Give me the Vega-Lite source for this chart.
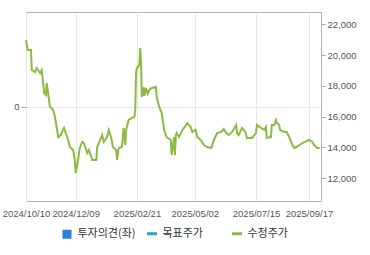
{
  "$schema": "https://vega.github.io/schema/vega-lite/v6.json",
  "width": 295,
  "height": 189,
  "autosize": {"type": "none"},
  "padding": {"left": 26, "top": 12, "right": 49, "bottom": 54},
  "background": "#ffffff",
  "config": {
    "view": {"stroke": "#b4b4b4", "strokeWidth": 1},
    "font": "Liberation Sans",
    "axis": {"labelColor": "#555555", "labelFontSize": 9.5, "labelFont": "Liberation Sans", "domain": false, "tickColor": "#aaaaaa", "gridColor": "#e8e8e8", "title": null}
  },
  "data": {
    "values": [
      {"date": "2024-10-10", "price": 20980, "series": "수정주가"},
      {"date": "2024-10-12", "price": 20330, "series": "수정주가"},
      {"date": "2024-10-16", "price": 20330, "series": "수정주가"},
      {"date": "2024-10-17", "price": 19030, "series": "수정주가"},
      {"date": "2024-10-21", "price": 18900, "series": "수정주가"},
      {"date": "2024-10-23", "price": 19160, "series": "수정주가"},
      {"date": "2024-10-27", "price": 18840, "series": "수정주가"},
      {"date": "2024-10-29", "price": 19030, "series": "수정주가"},
      {"date": "2024-11-01", "price": 17540, "series": "수정주가"},
      {"date": "2024-11-03", "price": 17410, "series": "수정주가"},
      {"date": "2024-11-04", "price": 18190, "series": "수정주가"},
      {"date": "2024-11-06", "price": 17410, "series": "수정주가"},
      {"date": "2024-11-08", "price": 16630, "series": "수정주가"},
      {"date": "2024-11-12", "price": 16440, "series": "수정주가"},
      {"date": "2024-11-14", "price": 15980, "series": "수정주가"},
      {"date": "2024-11-16", "price": 15330, "series": "수정주가"},
      {"date": "2024-11-18", "price": 14680, "series": "수정주가"},
      {"date": "2024-11-21", "price": 14810, "series": "수정주가"},
      {"date": "2024-11-25", "price": 15270, "series": "수정주가"},
      {"date": "2024-11-27", "price": 14940, "series": "수정주가"},
      {"date": "2024-11-30", "price": 14490, "series": "수정주가"},
      {"date": "2024-12-02", "price": 14030, "series": "수정주가"},
      {"date": "2024-12-06", "price": 13840, "series": "수정주가"},
      {"date": "2024-12-08", "price": 13190, "series": "수정주가"},
      {"date": "2024-12-09", "price": 12340, "series": "수정주가"},
      {"date": "2024-12-11", "price": 12860, "series": "수정주가"},
      {"date": "2024-12-14", "price": 13970, "series": "수정주가"},
      {"date": "2024-12-17", "price": 14360, "series": "수정주가"},
      {"date": "2024-12-19", "price": 14290, "series": "수정주가"},
      {"date": "2024-12-23", "price": 13640, "series": "수정주가"},
      {"date": "2024-12-25", "price": 13840, "series": "수정주가"},
      {"date": "2024-12-28", "price": 13380, "series": "수정주가"},
      {"date": "2024-12-29", "price": 13190, "series": "수정주가"},
      {"date": "2025-01-03", "price": 13190, "series": "수정주가"},
      {"date": "2025-01-04", "price": 14030, "series": "수정주가"},
      {"date": "2025-01-09", "price": 14680, "series": "수정주가"},
      {"date": "2025-01-10", "price": 14810, "series": "수정주가"},
      {"date": "2025-01-12", "price": 14360, "series": "수정주가"},
      {"date": "2025-01-16", "price": 14680, "series": "수정주가"},
      {"date": "2025-01-18", "price": 15140, "series": "수정주가"},
      {"date": "2025-01-21", "price": 14620, "series": "수정주가"},
      {"date": "2025-01-23", "price": 14030, "series": "수정주가"},
      {"date": "2025-01-27", "price": 13840, "series": "수정주가"},
      {"date": "2025-01-28", "price": 13190, "series": "수정주가"},
      {"date": "2025-01-30", "price": 13970, "series": "수정주가"},
      {"date": "2025-02-03", "price": 14030, "series": "수정주가"},
      {"date": "2025-02-05", "price": 15270, "series": "수정주가"},
      {"date": "2025-02-07", "price": 14160, "series": "수정주가"},
      {"date": "2025-02-08", "price": 15140, "series": "수정주가"},
      {"date": "2025-02-11", "price": 15790, "series": "수정주가"},
      {"date": "2025-02-15", "price": 15920, "series": "수정주가"},
      {"date": "2025-02-18", "price": 15980, "series": "수정주가"},
      {"date": "2025-02-19", "price": 16440, "series": "수정주가"},
      {"date": "2025-02-20", "price": 18840, "series": "수정주가"},
      {"date": "2025-02-21", "price": 19160, "series": "수정주가"},
      {"date": "2025-02-24", "price": 19360, "series": "수정주가"},
      {"date": "2025-02-25", "price": 20460, "series": "수정주가"},
      {"date": "2025-02-26", "price": 19490, "series": "수정주가"},
      {"date": "2025-02-27", "price": 17280, "series": "수정주가"},
      {"date": "2025-03-01", "price": 17930, "series": "수정주가"},
      {"date": "2025-03-02", "price": 17350, "series": "수정주가"},
      {"date": "2025-03-04", "price": 17870, "series": "수정주가"},
      {"date": "2025-03-06", "price": 17480, "series": "수정주가"},
      {"date": "2025-03-08", "price": 17740, "series": "수정주가"},
      {"date": "2025-03-11", "price": 17870, "series": "수정주가"},
      {"date": "2025-03-16", "price": 17930, "series": "수정주가"},
      {"date": "2025-03-17", "price": 17280, "series": "수정주가"},
      {"date": "2025-03-20", "price": 16630, "series": "수정주가"},
      {"date": "2025-03-23", "price": 16240, "series": "수정주가"},
      {"date": "2025-03-26", "price": 15140, "series": "수정주가"},
      {"date": "2025-03-29", "price": 14680, "series": "수정주가"},
      {"date": "2025-04-03", "price": 14490, "series": "수정주가"},
      {"date": "2025-04-04", "price": 13510, "series": "수정주가"},
      {"date": "2025-04-07", "price": 14680, "series": "수정주가"},
      {"date": "2025-04-08", "price": 13510, "series": "수정주가"},
      {"date": "2025-04-09", "price": 14810, "series": "수정주가"},
      {"date": "2025-04-10", "price": 14940, "series": "수정주가"},
      {"date": "2025-04-13", "price": 14680, "series": "수정주가"},
      {"date": "2025-04-17", "price": 15140, "series": "수정주가"},
      {"date": "2025-04-19", "price": 15270, "series": "수정주가"},
      {"date": "2025-04-23", "price": 15590, "series": "수정주가"},
      {"date": "2025-04-25", "price": 15460, "series": "수정주가"},
      {"date": "2025-04-27", "price": 15330, "series": "수정주가"},
      {"date": "2025-04-29", "price": 15010, "series": "수정주가"},
      {"date": "2025-05-03", "price": 15140, "series": "수정주가"},
      {"date": "2025-05-05", "price": 14680, "series": "수정주가"},
      {"date": "2025-05-09", "price": 14490, "series": "수정주가"},
      {"date": "2025-05-13", "price": 14160, "series": "수정주가"},
      {"date": "2025-05-17", "price": 14030, "series": "수정주가"},
      {"date": "2025-05-22", "price": 13970, "series": "수정주가"},
      {"date": "2025-05-25", "price": 14490, "series": "수정주가"},
      {"date": "2025-05-29", "price": 14940, "series": "수정주가"},
      {"date": "2025-06-03", "price": 15010, "series": "수정주가"},
      {"date": "2025-06-06", "price": 15200, "series": "수정주가"},
      {"date": "2025-06-09", "price": 14940, "series": "수정주가"},
      {"date": "2025-06-12", "price": 14810, "series": "수정주가"},
      {"date": "2025-06-16", "price": 15010, "series": "수정주가"},
      {"date": "2025-06-21", "price": 15460, "series": "수정주가"},
      {"date": "2025-06-22", "price": 14940, "series": "수정주가"},
      {"date": "2025-06-24", "price": 14810, "series": "수정주가"},
      {"date": "2025-06-28", "price": 15270, "series": "수정주가"},
      {"date": "2025-07-02", "price": 15010, "series": "수정주가"},
      {"date": "2025-07-04", "price": 14620, "series": "수정주가"},
      {"date": "2025-07-10", "price": 14620, "series": "수정주가"},
      {"date": "2025-07-15", "price": 14940, "series": "수정주가"},
      {"date": "2025-07-16", "price": 15460, "series": "수정주가"},
      {"date": "2025-07-21", "price": 15270, "series": "수정주가"},
      {"date": "2025-07-25", "price": 15140, "series": "수정주가"},
      {"date": "2025-07-27", "price": 15330, "series": "수정주가"},
      {"date": "2025-07-28", "price": 14620, "series": "수정주가"},
      {"date": "2025-08-02", "price": 14680, "series": "수정주가"},
      {"date": "2025-08-03", "price": 15460, "series": "수정주가"},
      {"date": "2025-08-06", "price": 15460, "series": "수정주가"},
      {"date": "2025-08-08", "price": 15790, "series": "수정주가"},
      {"date": "2025-08-09", "price": 15590, "series": "수정주가"},
      {"date": "2025-08-12", "price": 15460, "series": "수정주가"},
      {"date": "2025-08-13", "price": 15140, "series": "수정주가"},
      {"date": "2025-08-18", "price": 15010, "series": "수정주가"},
      {"date": "2025-08-21", "price": 15010, "series": "수정주가"},
      {"date": "2025-08-24", "price": 14680, "series": "수정주가"},
      {"date": "2025-08-27", "price": 14290, "series": "수정주가"},
      {"date": "2025-08-30", "price": 13970, "series": "수정주가"},
      {"date": "2025-09-02", "price": 14030, "series": "수정주가"},
      {"date": "2025-09-09", "price": 14290, "series": "수정주가"},
      {"date": "2025-09-12", "price": 14360, "series": "수정주가"},
      {"date": "2025-09-17", "price": 14490, "series": "수정주가"},
      {"date": "2025-09-21", "price": 14360, "series": "수정주가"},
      {"date": "2025-09-23", "price": 14160, "series": "수정주가"},
      {"date": "2025-09-27", "price": 13970, "series": "수정주가"},
      {"date": "2025-09-30", "price": 13970, "series": "수정주가"}
    ]
  },
  "layer": [
    {
      "mark": {"type": "rule", "opacity": 0},
      "encoding": {
        "y": {
          "datum": 0,
          "type": "quantitative",
          "scale": {"domain": [-1, 1]},
          "axis": {"orient": "left", "values": [0], "grid": true, "tickSize": 5, "labelPadding": 2, "title": null}
        }
      }
    },
    {
      "mark": {"type": "line", "strokeWidth": 2, "interpolate": "linear"},
      "encoding": {
        "x": {
          "field": "date",
          "type": "temporal",
          "scale": {"type": "utc", "domain": [{"year": 2024, "month": 10, "date": 10, "utc": true}, {"year": 2025, "month": 10, "date": 1, "hours": 12, "utc": true}]},
          "axis": {
            "orient": "bottom",
            "values": [
              {"year": 2024, "month": 10, "date": 10, "utc": true},
              {"year": 2024, "month": 12, "date": 9, "utc": true},
              {"year": 2025, "month": 2, "date": 21, "utc": true},
              {"year": 2025, "month": 5, "date": 2, "utc": true},
              {"year": 2025, "month": 7, "date": 15, "utc": true},
              {"year": 2025, "month": 9, "date": 17, "utc": true}
            ],
            "labelExpr": "utcFormat(datum.value, '%Y/%m/%d')",
            "grid": true,
            "ticks": false,
            "labelPadding": 7,
            "labelFlush": false,
            "labelOverlap": false,
            "title": null
          }
        },
        "y": {
          "field": "price",
          "type": "quantitative",
          "scale": {"domain": [10525, 22800], "nice": false, "zero": false},
          "axis": {"orient": "right", "values": [12000, 14000, 16000, 18000, 20000, 22000], "format": ",d", "grid": false, "tickSize": 4, "labelPadding": 2, "title": null}
        },
        "color": {
          "field": "series",
          "type": "nominal",
          "scale": {"domain": ["투자의견(좌)", "목표주가", "수정주가"], "range": ["#2b7fde", "#1fa8c0", "#8cba42"]},
          "legend": {
            "title": null,
            "orient": "none",
            "legendX": 35.5,
            "legendY": 216,
            "direction": "horizontal",
            "columns": 3,
            "gridAlign": "all",
            "columnPadding": 4,
            "padding": 0,
            "symbolType": "stroke",
            "symbolSize": 100,
            "symbolStrokeWidth": 3,
            "labelFont": "Noto Sans CJK KR",
            "labelFontSize": 11,
            "labelColor": "#333333",
            "labelOffset": 5,
            "encode": {
              "symbols": {
                "update": {
                  "shape": {"signal": "datum.value === '투자의견(좌)' ? 'square' : 'stroke'"},
                  "fill": {"signal": "datum.value === '투자의견(좌)' ? '#2b7fde' : 'transparent'"},
                  "size": {"signal": "datum.value === '투자의견(좌)' ? 81 : 100"},
                  "strokeWidth": {"signal": "datum.value === '투자의견(좌)' ? 0 : 3"}
                }
              }
            }
          }
        }
      }
    }
  ],
  "resolve": {"scale": {"y": "independent"}}
}
